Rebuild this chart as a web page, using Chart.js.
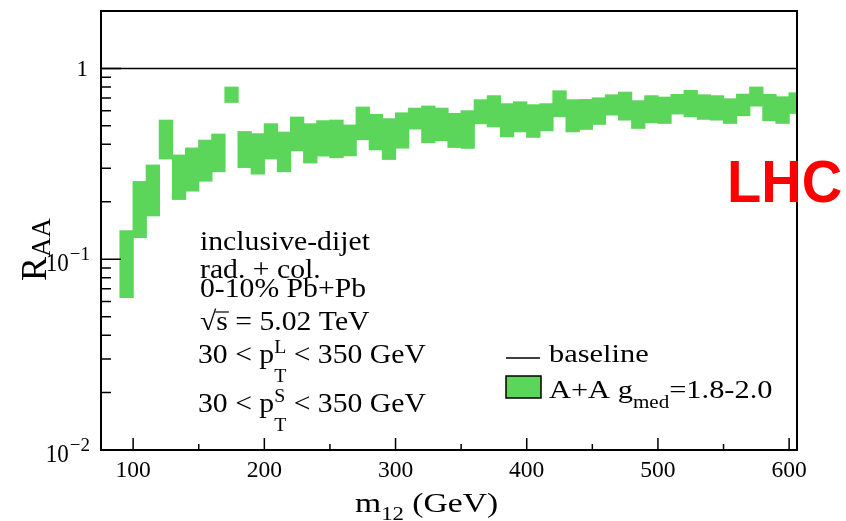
<!DOCTYPE html>
<html>
<head>
<meta charset="utf-8">
<script src="https://cdn.jsdelivr.net/npm/chart.js@4"></script>
<style>
  body { margin: 0; background: #fff; }
  canvas { display: block; }
</style>
</head>
<body>
<canvas id="raaChart" width="846" height="521"></canvas>
<script>
// dijet mass bins, 10 GeV wide (centres)
const m12 = [95, 105, 115, 125, 135, 145, 155, 165, 175, 185, 195, 205, 215, 225, 235, 245, 255, 265,
  275, 285, 295, 305, 315, 325, 335, 345, 355, 365, 375, 385, 395, 405, 415, 425, 435, 445, 455, 465,
  475, 485, 495, 505, 515, 525, 535, 545, 555, 565, 575, 585, 595, 605];
// band edges for g_med = 1.8 - 2.0
const raaLow = [0.063, 0.130, 0.169, 0.336, 0.206, 0.228, 0.257, 0.288, 0.665, 0.303, 0.280, 0.336, 0.288,
  0.371, 0.320, 0.348, 0.341, 0.349, 0.424, 0.375, 0.334, 0.383, 0.482, 0.409, 0.419, 0.386, 0.382,
  0.514, 0.495, 0.439, 0.466, 0.436, 0.472, 0.559, 0.466, 0.480, 0.510, 0.571, 0.537, 0.486, 0.520,
  0.516, 0.578, 0.559, 0.542, 0.537, 0.516, 0.566, 0.636, 0.533, 0.516, 0.582];
const raaHigh = [0.141, 0.255, 0.311, 0.535, 0.351, 0.382, 0.420, 0.452, 0.797, 0.466, 0.454, 0.512, 0.463,
  0.555, 0.512, 0.531, 0.535, 0.504, 0.626, 0.573, 0.544, 0.584, 0.618, 0.634, 0.618, 0.580, 0.599,
  0.684, 0.718, 0.652, 0.667, 0.644, 0.652, 0.762, 0.684, 0.686, 0.700, 0.726, 0.750, 0.676, 0.718,
  0.706, 0.729, 0.765, 0.726, 0.718, 0.692, 0.732, 0.797, 0.729, 0.709, 0.744];

const xTicks = [100, 200, 300, 400, 500, 600];
const xMinorTicks = [150, 250, 350, 450, 550];
const yDecades = [1, 0.1, 0.01];
const yDecadeLabels = [['1', ''], ['10', '\u22121'], ['10', '\u22122']];

const infoLines = ['inclusive-dijet', 'rad. + col.', '0-10% Pb+Pb'];

const GREEN = '#5bd65b';
const SERIF = '"Liberation Serif", "Times New Roman", serif';

// text helper, the ROOT output is a bit wider than plain Times
function txt(ctx, s, x, y, size, opt) {
  opt = opt || {};
  const sx = opt.sx || 1, sy = opt.sy || 1;
  ctx.save();
  ctx.font = (opt.bold ? 'bold ' : '') + size + 'px ' + (opt.family || SERIF);
  ctx.fillStyle = opt.color || '#000';
  ctx.textBaseline = 'alphabetic';
  const w = ctx.measureText(s).width * sx;
  let x0 = x;
  if (opt.align === 'right') x0 = x - w;
  if (opt.align === 'center') x0 = x - w / 2;
  ctx.translate(x0, y);
  ctx.scale(sx, sy);
  ctx.fillText(s, 0, 0);
  ctx.restore();
  return w;
}

const decorations = {
  id: 'decorations',
  afterDraw(chart) {
    const ctx = chart.ctx;
    const a = chart.chartArea;
    const xs = chart.scales.x, ys = chart.scales.y;

    ctx.save();
    ctx.strokeStyle = '#000';
    ctx.lineWidth = 2;
    ctx.strokeRect(a.left, a.top, a.right - a.left, a.bottom - a.top);

    // y ticks (inside the frame)
    ctx.lineWidth = 1.5;
    ctx.beginPath();
    for (let e = -2; e <= 0; e++) {
      for (let k = 1; k <= 9; k++) {
        const v = k * Math.pow(10, e);
        const py = ys.getPixelForValue(v);
        const len = k === 1 ? 20 : 10;
        ctx.moveTo(a.left, py);
        ctx.lineTo(a.left + len, py);
      }
    }
    // x ticks
    xTicks.forEach(v => {
      const px = xs.getPixelForValue(v);
      ctx.moveTo(px, a.bottom);
      ctx.lineTo(px, a.bottom - 12);
    });
    xMinorTicks.forEach(v => {
      const px = xs.getPixelForValue(v);
      ctx.moveTo(px, a.bottom);
      ctx.lineTo(px, a.bottom - 6);
    });
    ctx.stroke();
    ctx.restore();

    // tick labels
    xTicks.forEach(v => {
      txt(ctx, String(v), xs.getPixelForValue(v), 477, 22, { align: 'center', sx: 1.07, sy: 1.05 });
    });
    yDecades.forEach((v, i) => {
      const py = ys.getPixelForValue(v);
      const [base, sup] = yDecadeLabels[i];
      if (!sup) {
        txt(ctx, base, 88, py + 8, 23, { align: 'right' });
      } else {
        ctx.save();
        ctx.font = '19px ' + SERIF;
        const ws = ctx.measureText(sup).width;
        ctx.restore();
        txt(ctx, sup, 90 - ws, py + 1, 19);
        txt(ctx, base, 90 - ws - 1, py + 12, 23, { align: 'right', sy: 1.05 });
      }
    });

    // axis titles
    let x = 355;
    x += txt(ctx, 'm', x, 512, 28, { sx: 1.2 });
    x += txt(ctx, '12', x, 520, 19, { sx: 1.2 });
    txt(ctx, ' (GeV)', x, 512, 28, { sx: 1.2 });

    ctx.save();
    ctx.translate(46, 281);
    ctx.rotate(-Math.PI / 2);
    const wr = txt(ctx, 'R', 0, 0, 36);
    txt(ctx, 'AA', wr, 4, 27);
    ctx.restore();

    // info block
    const fs = 27, sx = 1.1;
    txt(ctx, infoLines[0], 200, 250, fs, { sx });
    txt(ctx, infoLines[1], 200, 278, fs, { sx });
    txt(ctx, infoLines[2], 200, 297, fs, { sx });
    // sqrt(s) = 5.02 TeV
    x = 200;
    x += txt(ctx, '\u221A', x, 330, fs, { sx });
    const ws = txt(ctx, 's', x, 330, fs, { sx });
    ctx.save();
    ctx.lineWidth = 1.2;
    ctx.beginPath();
    ctx.moveTo(x - 1, 312);
    ctx.lineTo(x + ws + 1, 312);
    ctx.stroke();
    ctx.restore();
    txt(ctx, ' = 5.02 TeV', x + ws, 330, fs, { sx });

    [['L', 363], ['S', 412]].forEach(([tag, by]) => {
      let px = 198;
      px += txt(ctx, '30 < p', px, by, fs, { sx });
      txt(ctx, tag, px, by - 10, 18, { sx });
      const wt = txt(ctx, 'T', px, by + 19, 18, { sx });
      txt(ctx, ' < 350 GeV', px + wt, by, fs, { sx });
    });

    // legend
    ctx.save();
    ctx.strokeStyle = '#000';
    ctx.lineWidth = 1.5;
    ctx.beginPath();
    ctx.moveTo(506, 358);
    ctx.lineTo(540, 358);
    ctx.stroke();
    ctx.fillStyle = GREEN;
    ctx.fillRect(506, 376, 35, 22);
    ctx.strokeRect(506, 376, 35, 22);
    ctx.restore();
    const lf = 26, lsx = 1.17;
    txt(ctx, 'baseline', 549, 362, lf, { sx: lsx });
    x = 549;
    x += txt(ctx, 'A+A g', x, 398, lf, { sx: lsx });
    x += txt(ctx, 'med', x, 408, 18, { sx: lsx });
    txt(ctx, '=1.8-2.0', x, 398, lf, { sx: lsx });

    txt(ctx, 'LHC', 727, 202, 56, { bold: true, sy: 1.07, color: '#ff0000', family: '"Liberation Sans", Arial, sans-serif' });
  }
};

new Chart(document.getElementById('raaChart'), {
  type: 'bar',
  data: {
    datasets: [{
      type: 'bar',
      label: 'A+A g_med=1.8-2.0',
      data: m12.map((m, i) => ({ x: m, y: [raaLow[i], raaHigh[i]] })),
      backgroundColor: GREEN,
      borderWidth: 0,
      barPercentage: 1.0,
      categoryPercentage: 1.0,
      inflateAmount: 0.6,   // close the anti-aliasing seams between bins
      grouped: false
    }, {
      type: 'line',
      label: 'baseline',
      data: [{ x: 75.5, y: 1 }, { x: 606, y: 1 }],
      borderColor: '#000',
      borderWidth: 1.5,
      pointRadius: 0
    }]
  },
  options: {
    responsive: false,
    animation: false,
    devicePixelRatio: 1,
    datasets: { bar: { barPercentage: 1.0, categoryPercentage: 1.0 } },
    layout: { padding: { left: 101, right: 49, top: 11, bottom: 71 } },
    plugins: { legend: { display: false }, tooltip: { enabled: false } },
    scales: {
      x: {
        type: 'linear', min: 75.5, max: 606, offset: false, display: false,
        // keep the bar width set by the 10 GeV binning, not by the edge ticks
        afterBuildTicks: scale => { scale.ticks = xTicks.map(v => ({ value: v })); }
      },
      y: { type: 'logarithmic', min: 0.01, max: 2, display: false }
    }
  },
  plugins: [decorations]
});
</script>
</body>
</html>
